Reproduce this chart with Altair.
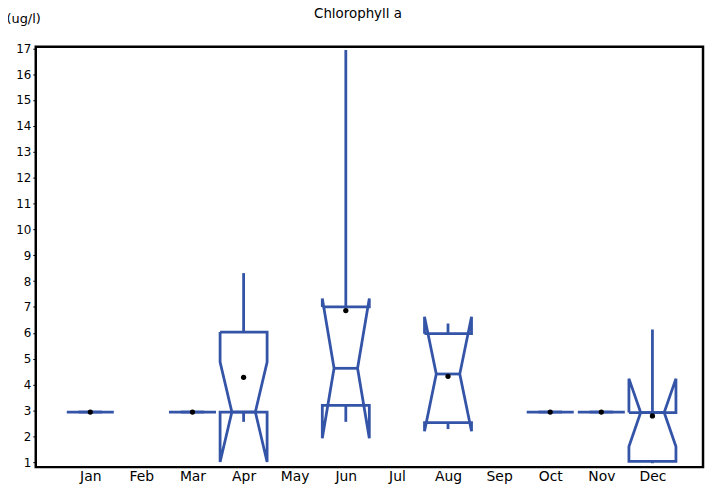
import altair as alt
import pandas as pd

months = ["Jan", "Feb", "Mar", "Apr", "May", "Jun", "Jul", "Aug", "Sep", "Oct", "Nov", "Dec"]
v_min    = [2.94, None, 2.94, 2.56, None, 2.56,  None, 2.28, None, 2.94, 2.94, 0.96]
v_q1     = [2.94, None, 2.94, 2.94, None, 3.20,  None, 2.53, None, 2.94, 2.94, 1.03]
v_median = [2.94, None, 2.94, 2.94, None, 4.63,  None, 4.41, None, 2.94, 2.94, 2.92]
v_q3     = [2.94, None, 2.94, 6.03, None, 7.00,  None, 5.97, None, 2.94, 2.94, 2.92]
v_max    = [2.94, None, 2.94, 8.31, None, 16.93, None, 6.36, None, 2.94, 2.94, 6.13]
v_mean   = [2.94, None, 2.94, 4.28, None, 6.86,  None, 4.32, None, 2.94, 2.94, 2.79]
v_notch  = [0.0,  None, 0.0,  1.93, None, 2.70,  None, 2.21, None, 0.0,  0.0,  1.31]
y_ticks = list(range(1, 18))
title_text = ["Chlorophyll a"]

BLUE = "#3454A8"
W = 0.46  # half box width in month units

poly, whisk, med, means = [], [], [], []
for i, m in enumerate(months):
    if v_median[i] is None:
        continue
    x = i + 1
    q1, q3, md, n = v_q1[i], v_q3[i], v_median[i], v_notch[i]
    nh, nl = md + n, md - n
    pts = [(x - W, q3), (x - W, nh), (x - W / 2, md), (x - W, nl), (x - W, q1),
           (x + W, q1), (x + W, nl), (x + W / 2, md), (x + W, nh), (x + W, q3), (x - W, q3)]
    for k, (px, py) in enumerate(pts):
        poly.append({"month": m, "x": px, "y": py, "k": k})
    whisk.append({"month": m, "x": x, "y": q3, "y2": v_max[i]})
    whisk.append({"month": m, "x": x, "y": q1, "y2": v_min[i]})
    med.append({"month": m, "x": x - W / 2, "x2": x + W / 2, "y": md})
    means.append({"month": m, "x": x, "y": v_mean[i]})

poly_df = pd.DataFrame(poly)
whisk_df = pd.DataFrame(whisk)
med_df = pd.DataFrame(med)
mean_df = pd.DataFrame(means)
title_df = pd.DataFrame({"t": title_text})

label_arr = "[" + ",".join(["''"] + [f"'{m}'" for m in months]) + "]"

xscale = alt.Scale(domain=[-0.067, 12.99], nice=False, zero=False)
yscale = alt.Scale(domain=[0.81, 17.06], nice=False, zero=False)

xaxis = alt.Axis(values=list(range(1, 13)), labelExpr=f"{label_arr}[datum.value]",
                 ticks=False, domain=False, grid=False, title=None,
                 labelFont="DejaVu Sans", labelFontSize=14, labelColor="black",
                 labelPadding=3, labelFlush=False)
yaxis = alt.Axis(values=y_ticks, format="d", ticks=True, tickSize=3, tickColor="black",
                 tickWidth=1, domain=False, grid=False,
                 labelFont="DejaVu Sans", labelFontSize=12, labelColor="black",
                 labelPadding=2, title="(ug/l)", titleAngle=0, titleAlign="left",
                 titleBaseline="alphabetic", titleX=-30, titleY=-24,
                 titleFont="DejaVu Sans", titleFontSize=13, titleFontWeight="normal",
                 titleColor="black")

boxes = alt.Chart(poly_df).mark_line(color=BLUE, strokeWidth=2.8, strokeJoin="miter").encode(
    x=alt.X("x:Q", scale=xscale, axis=xaxis),
    y=alt.Y("y:Q", scale=yscale, axis=yaxis),
    detail="month:N",
    order="k:Q",
)

whiskers = alt.Chart(whisk_df).mark_rule(color=BLUE, strokeWidth=2.8).encode(
    x=alt.X("x:Q", scale=xscale, axis=xaxis),
    y=alt.Y("y:Q", scale=yscale, axis=yaxis),
    y2="y2:Q",
)

medians = alt.Chart(med_df).mark_rule(color=BLUE, strokeWidth=2.8).encode(
    x=alt.X("x:Q", scale=xscale, axis=xaxis),
    x2="x2:Q",
    y=alt.Y("y:Q", scale=yscale, axis=yaxis),
)

dots = alt.Chart(mean_df).mark_circle(color="black", opacity=1, size=28).encode(
    x=alt.X("x:Q", scale=xscale, axis=xaxis),
    y=alt.Y("y:Q", scale=yscale, axis=yaxis),
)

title_mark = alt.Chart(title_df).mark_text(
    font="DejaVu Sans", fontSize=13.5, color="black", align="center", baseline="alphabetic"
).encode(x=alt.value(325), y=alt.value(-29), text="t:N")

chart = alt.layer(boxes, whiskers, medians, dots, title_mark).properties(
    width=673,
    height=424,
    background="white",
    autosize=alt.AutoSizeParams(type="none"),
    padding={"left": 28, "top": 37, "right": 3, "bottom": 20},
).configure_view(stroke="black", strokeWidth=2.5)

chart.save("out.html", embed_options={"renderer": "svg", "actions": False})
